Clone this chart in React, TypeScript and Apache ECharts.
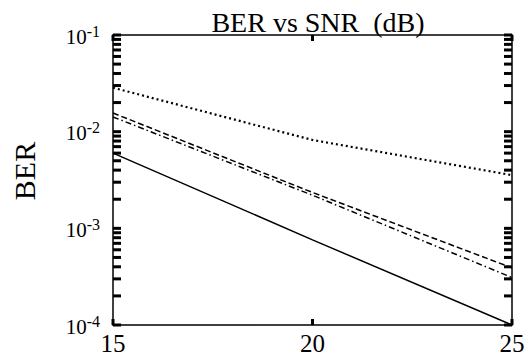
import React, { useEffect, useRef } from "react";
import * as echarts from "echarts";

const snrValues = [15, 20, 25];
const solidBer = [6.0e-3, 7.6e-4, 1.0e-4];
const dottedBer = [2.85e-2, 8.2e-3, 3.55e-3];
const dashedBer = [1.56e-2, 2.35e-3, 3.9e-4];
const dashDotBer = [1.42e-2, 2.2e-3, 3.1e-4];
const xTickLabels = ["15", "20", "25"];
const xTickValues = [15, 20, 25];
const yMinorTicks: number[] = [];
for (const d of [1e-4, 1e-3, 1e-2]) {
  for (let m = 1; m <= 9; m++) yMinorTicks.push(m * d);
}
yMinorTicks.push(1e-1);

const FONT = "Liberation Serif";
const X_MIN = 15;
const X_MAX = 25;
const Y_MIN = 1e-4;
const Y_MAX = 1e-1;
const EXP_MIN = -4;
const EXP_MAX = -1;

function pairs(ys: number[]) {
  return snrValues.map((x, i) => [x, ys[i]]);
}

export default function App() {
  const ref = useRef<HTMLDivElement>(null);
  useEffect(() => {
    if (!ref.current) return;
    const chart = echarts.init(ref.current, undefined, { renderer: "svg" });
    const expLabel = (e: number) => `{b|10}{s|${Math.round(e)}}`;
    const axisLine = { show: true, lineStyle: { color: "#000", width: 1.5 } };
    chart.setOption({
      animation: false,
      backgroundColor: "#fff",
      textStyle: { fontFamily: FONT },
      title: {
        text: "BER vs SNR  (dB)",
        left: 313,
        top: 3,
        textAlign: "center",
        textStyle: { fontFamily: FONT, fontSize: 28, fontWeight: "normal", color: "#000" },
      },
      grid: { left: 113, right: 17, top: 35, bottom: 38, containLabel: false },
      xAxis: [
        {
          type: "value",
          min: X_MIN,
          max: X_MAX,
          interval: 5,
          axisLine,
          splitLine: { show: false },
          axisTick: { show: false },
          axisLabel: {
            fontFamily: FONT,
            fontSize: 25,
            color: "#000",
            margin: 6,
            formatter: (v: number) => xTickLabels[snrValues.indexOf(v)] ?? String(v),
          },
        },
        {
          type: "value",
          position: "top",
          min: X_MIN,
          max: X_MAX,
          interval: 5,
          axisLine,
          splitLine: { show: false },
          axisTick: { show: false },
          axisLabel: { show: false },
        },
      ],
      yAxis: [
        {
          type: "log",
          logBase: 10,
          min: Y_MIN,
          max: Y_MAX,
          position: "left",
          axisLine,
          splitLine: { show: false },
          axisTick: { show: false },
          axisLabel: { show: false },
          name: "BER",
          nameLocation: "middle",
          nameGap: 74,
          nameTextStyle: { fontFamily: FONT, fontSize: 30, color: "#000", padding: [0, 0, 0, 18] },
        },
        {
          type: "log",
          logBase: 10,
          min: Y_MIN,
          max: Y_MAX,
          position: "right",
          axisLine,
          splitLine: { show: false },
          axisTick: { show: false },
          axisLabel: { show: false },
        },
        {
          type: "value",
          position: "left",
          min: EXP_MIN,
          max: EXP_MAX,
          interval: 1,
          axisLine: { show: false },
          splitLine: { show: false },
          axisTick: { show: false },
          axisLabel: {
            margin: 13,
            fontFamily: FONT,
            fontSize: 21,
            color: "#000",
            formatter: expLabel,
            rich: {
              b: { fontFamily: FONT, fontSize: 21, color: "#000", verticalAlign: "bottom", lineHeight: 24 },
              s: { fontFamily: FONT, fontSize: 16, color: "#000", verticalAlign: "top", lineHeight: 24 },
            },
          },
        },
      ],
      series: [
        {
          type: "line",
          data: pairs(solidBer),
          showSymbol: false,
          lineStyle: { color: "#000", width: 1.5, type: "solid" },
        },
        {
          type: "line",
          data: pairs(dottedBer),
          showSymbol: false,
          lineStyle: { color: "#000", width: 2.2, type: [2, 3] },
        },
        {
          type: "line",
          data: pairs(dashedBer),
          showSymbol: false,
          lineStyle: { color: "#000", width: 1.5, type: [6, 3] },
        },
        {
          type: "line",
          data: pairs(dashDotBer),
          showSymbol: false,
          lineStyle: { color: "#000", width: 1.5, type: [6, 3, 1.5, 3] },
        },
        {
          type: "custom",
          silent: true,
          clip: false,
          data: yMinorTicks.map((v) => [X_MIN, v]),
          renderItem: (_p: any, api: any) => {
            const v = api.value(1);
            const l = api.coord([X_MIN, v]);
            const r = api.coord([X_MAX, v]);
            return {
              type: "group",
              children: [
                { type: "line", shape: { x1: l[0], y1: l[1], x2: l[0] + 8, y2: l[1] }, style: { stroke: "#000", lineWidth: 3 } },
                { type: "line", shape: { x1: r[0] - 8, y1: r[1], x2: r[0], y2: r[1] }, style: { stroke: "#000", lineWidth: 3 } },
              ],
            };
          },
        },
        {
          type: "custom",
          silent: true,
          clip: false,
          data: xTickValues.map((x) => [x, Y_MIN]),
          renderItem: (_p: any, api: any) => {
            const x = api.value(0);
            const b = api.coord([x, Y_MIN]);
            const t = api.coord([x, Y_MAX]);
            return {
              type: "group",
              children: [
                { type: "line", shape: { x1: b[0], y1: b[1], x2: b[0], y2: b[1] - 6 }, style: { stroke: "#000", lineWidth: 3 } },
                { type: "line", shape: { x1: t[0], y1: t[1], x2: t[0], y2: t[1] + 6 }, style: { stroke: "#000", lineWidth: 3 } },
              ],
            };
          },
        },
      ],
    });
    return () => chart.dispose();
  }, []);
  return <div ref={ref} style={{ width: 529, height: 363, position: "absolute", left: 0, top: 0 }} />;
}
